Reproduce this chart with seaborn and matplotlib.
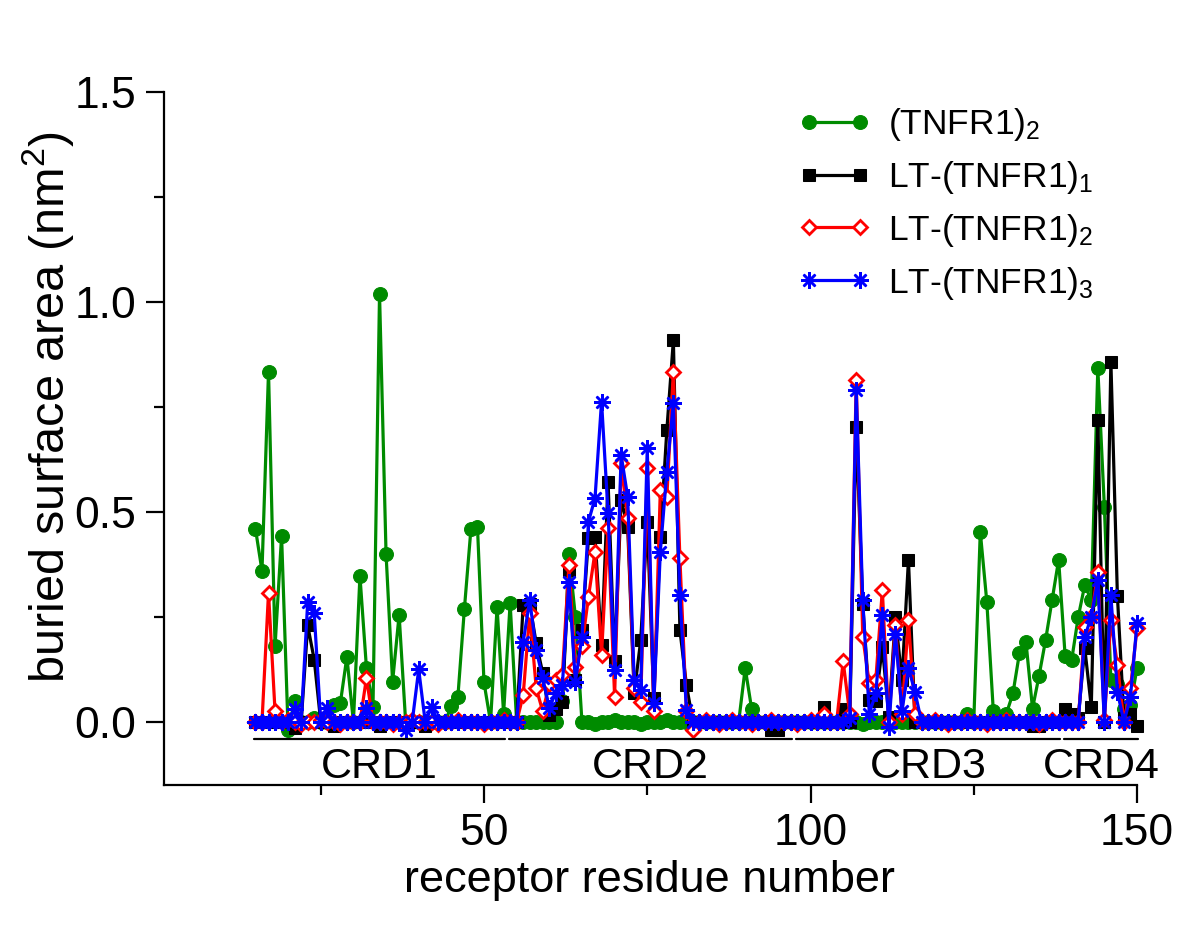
import numpy as np
import pandas as pd
import matplotlib
matplotlib.use('Agg')
import matplotlib.pyplot as plt
from matplotlib.ticker import FormatStrFormatter
import seaborn as sns

#-----------------------
# Data
#-----------------------

# receptor residue numbers
residues = list(range(15, 151))

# buried surface area (nm^2), one value per residue 15..150
tnfr1_dimer = [
    0.46, 0.36, 0.834, 0.18, 0.443, -0.02, 0.05, 0.0, 0.0, 0.01,      # 15-24
    0.0, 0.0, 0.04, 0.045, 0.155, 0.0, 0.348, 0.128, 0.036, 1.019,     # 25-34
    0.40, 0.096, 0.255, 0.0, 0.0, 0.0, 0.0, 0.0, 0.0, 0.0,             # 35-44
    0.037, 0.06, 0.27, 0.46, 0.464, 0.094, 0.0, 0.273, 0.02, 0.283,    # 45-54
    0.0, 0.0, 0.0, 0.0, 0.0, 0.0, 0.0, 0.05, 0.40, 0.25,               # 55-64
    0.0, 0.0, -0.005, 0.0, 0.0, 0.005, 0.0, 0.0, 0.0, -0.005,          # 65-74
    0.0, 0.0, 0.0, 0.005, 0.0, 0.0, 0.0, 0.0, 0.0, 0.0,                # 75-84
    0.0, 0.0, 0.0, 0.0, 0.0, 0.128, 0.03, 0.0, 0.0, 0.0,               # 85-94
    0.0, 0.0, 0.0, 0.0, 0.0, 0.0, 0.0, 0.0, 0.0, 0.0,                  # 95-104
    0.0, 0.0, 0.0, -0.005, 0.0, 0.0, 0.0, 0.0, 0.0, 0.0,               # 105-114
    0.0, 0.0, 0.0, 0.0, 0.0, 0.0, 0.0, 0.0, 0.0, 0.02,                 # 115-124
    0.0, 0.453, 0.286, 0.025, 0.01, 0.02, 0.068, 0.164, 0.19, 0.032,   # 125-134
    0.11, 0.195, 0.29, 0.386, 0.156, 0.148, 0.25, 0.326, 0.29, 0.842,  # 135-144
    0.513, 0.10, 0.09, 0.03, 0.04, 0.128,                              # 145-150
]

lt_tnfr1_1 = [
    0.0, 0.0, 0.0, 0.0, 0.0, 0.0, -0.015, 0.0, 0.23, 0.148,            # 15-24
    0.0, 0.0, -0.01, 0.0, 0.0, 0.0, 0.0, 0.0, 0.0, -0.01,              # 25-34
    0.0, 0.0, 0.0, 0.0, 0.0, 0.0, -0.01, 0.0, 0.0, 0.0,                # 35-44
    0.0, 0.0, 0.0, 0.0, 0.0, 0.0, 0.0, 0.0, 0.0, 0.0,                  # 45-54
    0.0, 0.279, 0.28, 0.187, 0.116, 0.017, 0.03, 0.048, 0.362, 0.10,   # 55-64
    0.219, 0.437, 0.441, 0.183, 0.572, 0.144, 0.529, 0.465, 0.068, 0.195,  # 65-74
    0.477, 0.056, 0.441, 0.695, 0.909, 0.219, 0.088, 0.0, 0.0, 0.0,   # 75-84
    0.0, 0.0, 0.0, 0.0, 0.0, 0.0, 0.0, 0.0, 0.0, -0.02,                # 85-94
    -0.02, 0.0, 0.0, 0.0, 0.0, 0.0, 0.0, 0.036, 0.0, 0.0,              # 95-104
    0.03, 0.0, 0.703, 0.28, 0.052, 0.05, 0.179, 0.013, 0.25, 0.10,     # 105-114
    0.386, 0.0, 0.0, 0.0, 0.0, 0.0, 0.0, 0.0, 0.0, 0.0,                # 115-124
    0.0, 0.0, 0.0, 0.0, 0.0, 0.0, 0.0, 0.0, 0.0, -0.01,                # 125-134
    -0.01, 0.0, 0.0, 0.0, 0.03, 0.02, 0.01, 0.176, 0.036, 0.719,       # 135-144
    0.0, 0.858, 0.30, 0.01, 0.02, -0.01,                               # 145-150
]

lt_tnfr1_2 = [
    0.0, 0.0, 0.308, 0.025, 0.0, 0.005, 0.0, -0.005, 0.0, 0.0,         # 15-24
    0.005, 0.0, 0.0, -0.005, 0.0, 0.0, 0.0, 0.105, 0.0, 0.0,           # 25-34
    0.0, -0.005, 0.0, 0.0, 0.005, 0.0, 0.0, 0.0, -0.005, 0.0,          # 35-44
    0.0, 0.005, 0.0, 0.0, 0.0, -0.005, 0.0, 0.0, 0.005, 0.0,           # 45-54
    0.0, 0.064, 0.259, 0.08, 0.025, 0.09, 0.10, 0.112, 0.374, 0.13,    # 55-64
    0.18, 0.298, 0.405, 0.16, 0.461, 0.06, 0.616, 0.485, 0.08, 0.048,  # 65-74
    0.604, 0.025, 0.552, 0.536, 0.834, 0.39, 0.025, -0.02, 0.0, 0.005, # 75-84
    0.0, -0.005, 0.0, 0.005, 0.0, 0.0, -0.005, 0.0, 0.0, 0.005,        # 85-94
    0.0, 0.0, 0.0, -0.005, 0.0, 0.005, 0.0, 0.02, 0.0, 0.0,            # 95-104
    0.144, 0.02, 0.814, 0.203, 0.092, 0.10, 0.314, 0.0, 0.23, 0.02,    # 105-114
    0.243, 0.02, 0.0, 0.0, 0.005, 0.0, -0.005, 0.0, 0.0, 0.005,        # 115-124
    0.0, 0.0, -0.005, 0.0, 0.0, 0.005, 0.0, 0.0, 0.0, 0.0,             # 125-134
    -0.005, 0.0, 0.005, 0.0, 0.0, 0.0, 0.0, 0.227, 0.25, 0.358,        # 135-144
    0.005, 0.243, 0.136, 0.0, 0.08, 0.223,                             # 145-150
]

lt_tnfr1_3 = [
    0.0, 0.0, 0.0, 0.0, 0.0, 0.0, 0.03, 0.0, 0.286, 0.259,             # 15-24
    0.0, 0.033, 0.0, 0.0, 0.0, 0.0, 0.0, 0.033, 0.0, 0.0,              # 25-34
    0.0, 0.0, 0.0, -0.02, 0.0, 0.125, 0.0, 0.036, 0.0, 0.0,            # 35-44
    0.0, 0.0, 0.0, 0.0, 0.0, 0.0, 0.0, 0.0, 0.0, 0.0,                  # 45-54
    0.0, 0.19, 0.29, 0.171, 0.104, 0.033, 0.07, 0.088, 0.334, 0.096,   # 55-64
    0.203, 0.477, 0.533, 0.763, 0.497, 0.124, 0.636, 0.536, 0.10, 0.076,  # 65-74
    0.652, 0.045, 0.405, 0.596, 0.759, 0.302, 0.029, 0.0, 0.0, 0.0,   # 75-84
    0.0, 0.0, 0.0, 0.0, 0.0, 0.0, 0.0, 0.0, 0.0, 0.0,                  # 85-94
    0.0, 0.0, 0.0, 0.0, 0.0, 0.0, 0.0, 0.0, 0.0, 0.0,                  # 95-104
    0.0, 0.01, 0.79, 0.29, 0.02, 0.068, 0.255, -0.011, 0.21, 0.025,    # 105-114
    0.128, 0.072, 0.0, 0.0, 0.0, 0.0, 0.0, 0.0, 0.0, 0.0,              # 115-124
    0.0, 0.0, 0.0, 0.0, 0.0, 0.0, 0.0, 0.0, 0.0, 0.0,                  # 125-134
    0.0, 0.0, 0.0, 0.0, 0.0, 0.0, 0.0, 0.203, 0.25, 0.338,             # 135-144
    0.0, 0.302, 0.072, 0.0, 0.06, 0.235,                               # 145-150
]

# cysteine-rich domains: first and last residue
crd_names = ['CRD1', 'CRD2', 'CRD3', 'CRD4']
crd_first = [15, 54, 98, 139]
crd_last = [53, 97, 138, 150]


#-----------------------
# Style
#-----------------------
sns.set_theme(style='ticks')
plt.rcParams['font.family'] = ['Liberation Sans', 'DejaVu Sans']
plt.rcParams['mathtext.fontset'] = 'custom'
plt.rcParams['mathtext.rm'] = 'Liberation Sans'
plt.rcParams['mathtext.it'] = 'Liberation Sans:italic'
plt.rcParams['axes.linewidth'] = 1.6
plt.rcParams['axes.edgecolor'] = 'black'
plt.rcParams['text.color'] = 'black'
plt.rcParams['xtick.color'] = 'black'
plt.rcParams['ytick.color'] = 'black'
plt.rcParams['xtick.labelcolor'] = 'black'
plt.rcParams['ytick.labelcolor'] = 'black'

df = pd.DataFrame({'residue': residues,
                   '(TNFR1)$_\\mathrm{2}$': tnfr1_dimer,
                   'LT-(TNFR1)$_\\mathrm{1}$': lt_tnfr1_1,
                   'LT-(TNFR1)$_\\mathrm{2}$': lt_tnfr1_2,
                   'LT-(TNFR1)$_\\mathrm{3}$': lt_tnfr1_3})

series_style = {
    '(TNFR1)$_\\mathrm{2}$': dict(color='#008b00', marker='o', markersize=10,
                                  markerfacecolor='#008b00', markeredgecolor='#008b00'),
    'LT-(TNFR1)$_\\mathrm{1}$': dict(color='black', marker='s', markersize=9,
                                     markerfacecolor='black', markeredgecolor='black'),
    'LT-(TNFR1)$_\\mathrm{2}$': dict(color='red', marker='D', markersize=7.5,
                                     markerfacecolor='white', markeredgecolor='red',
                                     markeredgewidth=2),
    'LT-(TNFR1)$_\\mathrm{3}$': dict(color='blue', marker=(8, 2, 0), markersize=12,
                                     markeredgecolor='blue', markeredgewidth=1.8),
}

fig = plt.figure(figsize=(12, 9.27), dpi=100)
ax = fig.add_axes([0.1367, 0.1532, 0.8108, 0.7476])

for name, kw in series_style.items():
    sns.lineplot(data=df, x='residue', y=name, ax=ax, label=name,
                 linewidth=2.3, clip_on=False, **kw)

# CRD bars and labels
for name, a, b in zip(crd_names, crd_first, crd_last):
    ax.plot([a - 0.2, b + 0.2], [-0.041, -0.041], color='black', lw=1.6,
            clip_on=False)
    ax.text((a + b) / 2, -0.134, name, ha='center', va='baseline',
            fontsize=31)

# Axes
ax.set_xlim(1, 150)
ax.set_ylim(-0.15, 1.5)
ax.set_xticks([50, 100, 150])
ax.set_xticks([25, 75, 125], minor=True)
ax.set_yticks([0.0, 0.5, 1.0, 1.5])
ax.set_yticks([0.25, 0.75, 1.25], minor=True)
ax.yaxis.set_major_formatter(FormatStrFormatter('%.1f'))
ax.tick_params(which='major', direction='out', length=13, width=1.6,
               labelsize=32, pad=7)
ax.tick_params(which='minor', direction='out', length=7, width=1.6)
ax.set_xlabel('')
ax.set_ylabel('')
sns.despine(ax=ax)

fig.text(650 / 1200, 1 - 892 / 927, 'receptor residue number', ha='center',
         va='baseline', fontsize=32.5)
fig.text(48 / 1200, 1 - 407 / 927, 'buried surface area (nm$^\\mathrm{2}$)',
         ha='center', va='center', rotation=90, fontsize=35)

ax.legend(loc='upper left', bbox_to_anchor=(798 / 1200, 1 - 106 / 927),
          bbox_transform=fig.transFigure, frameon=False, fontsize=25.5,
          numpoints=2, handlelength=2.05, handletextpad=0.5,
          labelspacing=0.45, borderpad=0, borderaxespad=0)

fig.savefig('out.png', dpi=100)
